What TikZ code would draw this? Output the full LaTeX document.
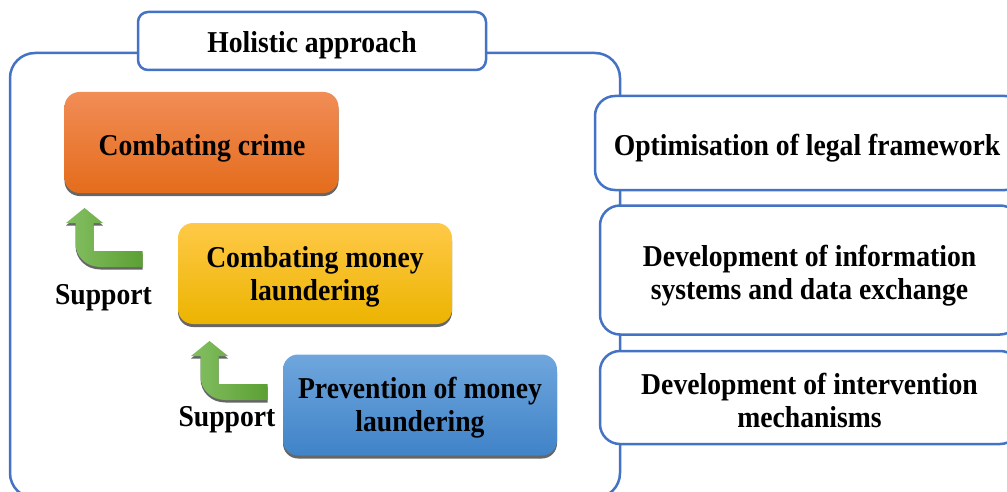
\documentclass[tikz,border=0pt]{standalone}
\usepackage{fontspec}
\setmainfont{Liberation Serif}[FakeStretch=0.913]
\usetikzlibrary{shadows}
\definecolor{frameblue}{RGB}{68,114,196}
\definecolor{orT}{RGB}{241,141,86}
\definecolor{orB}{RGB}{228,108,28}
\definecolor{yeT}{RGB}{255,201,72}
\definecolor{yeB}{RGB}{236,180,0}
\definecolor{blT}{RGB}{111,166,221}
\definecolor{blB}{RGB}{64,131,200}
\definecolor{grL}{RGB}{132,191,98}
\definecolor{grR}{RGB}{92,160,52}
\begin{document}
\begin{tikzpicture}[x=1pt,y=-1pt,
  txt/.style={font=\fontsize{30.3}{33}\selectfont\bfseries, align=center, text=black, anchor=base, inner sep=0pt},
  frameline/.style={draw=frameblue, line width=2.5pt},
  bluebox/.style={frameline, fill=white, rounded corners=20pt},
  colbox/.style={rounded corners=15pt, minimum width=274pt, minimum height=101pt,
    drop shadow={shadow xshift=0pt, shadow yshift=-3pt, fill=black!75, opacity=0.8}},
  bentarrow/.pic={
    \path[left color=grL, right color=grR,
      drop shadow={shadow xshift=0pt, shadow yshift=-2.5pt, fill=black!75, opacity=0.8}]
      (0,0) -- (18.5,15) -- (9,15) -- (9,43) -- (58,43) -- (58,59) -- (16,59)
      .. controls (2,59) and (-9,49) .. (-9,35) -- (-9,15) -- (-18.5,15) -- cycle;
  }
]
\useasboundingbox (0,0) rectangle (1007,492);
\clip (0,0) rectangle (1007,492);

% outer frame
\draw[frameline, rounded corners=25pt] (10,53) rectangle (620,498);

% title
\node[bluebox, rounded corners=10pt, minimum width=348pt, minimum height=58pt] (holistic) at (312,41) {};
\node[txt] (holistic-t) at (312,53) {Holistic approach};

% right boxes
\node[bluebox, minimum width=430pt, minimum height=94pt] (legal) at (810,143) {};
\node[bluebox, minimum width=420pt, minimum height=129pt] (info) at (810,270) {};
\node[bluebox, minimum width=420pt, minimum height=93pt] (interv) at (810,397.5) {};
\node[txt] (legal-t) at (807,155.7) {Optimisation of legal framework};
\node[txt] (info-t) at (809.5,299) {Development of information\\systems and data exchange};
\node[txt] (interv-t) at (809.5,427.7) {Development of intervention\\mechanisms};

% coloured boxes
\node[colbox, top color=orT, bottom color=orB] (crime) at (201.5,142.5) {};
\node[colbox, top color=yeT, bottom color=yeB] (aml) at (315,273.5) {};
\node[colbox, top color=blT, bottom color=blB] (prev) at (420,405) {};
\node[txt] (crime-t) at (202,156) {Combating crime};
\node[txt] (aml-t) at (315,300.7) {Combating money\\laundering};
\node[txt] (prev-t) at (420,431.7) {Prevention of money\\laundering};

% support arrows
\pic at (84.5,208) {bentarrow};
\pic at (209.5,341) {bentarrow};

\node[txt] (sup1) at (103.5,304) {Support};
\node[txt] (sup2) at (227,426) {Support};
\end{tikzpicture}
\end{document}
